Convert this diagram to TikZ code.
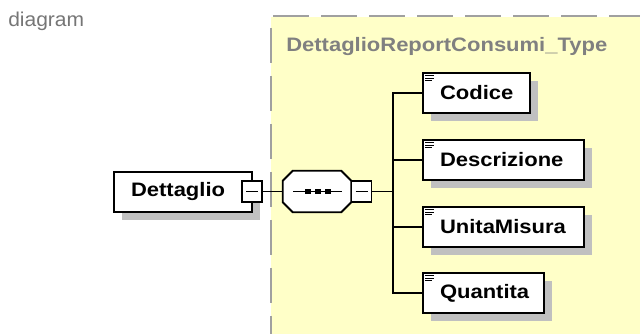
\documentclass[tikz,border=0pt]{standalone}
\usepackage{fontspec}
\setmainfont{Liberation Sans}
\newfontfamily\boxfont[FakeStretch=1.13]{Liberation Sans}
\newfontfamily\capfont[FakeStretch=1.05]{Liberation Sans}
\usetikzlibrary{shadows}
\definecolor{bgyellow}{RGB}{255,255,200}
\definecolor{dashgray}{RGB}{160,160,160}
\definecolor{titlegray}{RGB}{128,128,128}
\definecolor{shadowgray}{RGB}{192,192,192}
\definecolor{labelgray}{RGB}{118,118,118}
\begin{document}
\begin{tikzpicture}[x=0.75pt,y=-0.75pt,
  boxline/.style={line width=1.4pt},
  conn/.style={line width=1.3pt},
  shad/.style={drop shadow={shadow xshift=6pt,shadow yshift=-6pt,fill=shadowgray,opacity=1}},
  boxtext/.style={font=\boxfont\bfseries\fontsize{14.6}{17}\selectfont},
  elem/.style={draw=black, boxline, fill=white, shad, rectangle, inner xsep=12.75pt, inner ysep=0pt,
    minimum height=30pt, align=left, boxtext},
  minbox/.style={draw=black, line width=1.2pt, fill=white, rectangle, inner sep=0pt,
    minimum width=15pt, minimum height=15.75pt},
  seqarea/.style={rectangle, inner sep=0pt, minimum width=51pt, minimum height=30.75pt},
  octo/.style={draw=black, boxline, fill=white},
  dashline/.style={dashgray, line width=1.5pt}]
\useasboundingbox (0,0) rectangle (640,334);
\fill[white] (0,0) rectangle (640,334);
% type area
\fill[bgyellow] (271,17) rectangle (640,334);
\draw[dashline, dash pattern=on 27pt off 9pt] (273,16) -- (640,16);
\draw[dashline, dash pattern=on 26.25pt off 9.75pt] (271,28) -- (271,334);
% labels
\node[anchor=base west, inner sep=0pt, text=labelgray, font=\capfont\fontsize{15}{18}\selectfont] (lbl) at (8,26.7) {diagram};
\node[anchor=base west, inner sep=0pt, text=titlegray, boxtext] (title) at (286,52) {DettaglioReportConsumi\_Type};
% main element
\node[elem, text width=78pt] (dett) at (183,192) {Dettaglio};
\node[minbox] (dmin) at (252,191.5) {};
\draw[line width=1.1pt] ([xshift=-4.5pt]dmin.center) -- ([xshift=4.5pt]dmin.center);
% sequence compositor
\node[seqarea] (seq) at (317,191.5) {};
\fill[shadowgray, shift={(8,8)}] ([xshift=7.5pt]seq.north west) -- ([xshift=-7.5pt]seq.north east)
  -- ([yshift=-7.5pt]seq.north east) -- ([yshift=7.5pt]seq.south east)
  -- ([xshift=-7.5pt]seq.south east) -- ([xshift=7.5pt]seq.south west)
  -- ([yshift=7.5pt]seq.south west) -- ([yshift=-7.5pt]seq.north west) -- cycle;
\draw[octo] ([xshift=7.5pt]seq.north west) -- ([xshift=-7.5pt]seq.north east)
  -- ([yshift=-7.5pt]seq.north east) -- ([yshift=7.5pt]seq.south east)
  -- ([xshift=-7.5pt]seq.south east) -- ([xshift=7.5pt]seq.south west)
  -- ([yshift=7.5pt]seq.south west) -- ([yshift=-7.5pt]seq.north west) -- cycle;
\draw[line width=1.2pt] ([xshift=-18pt]seq.center) -- ([xshift=18.75pt]seq.center);
\foreach \dx in {-9,1,11}
  \fill ([shift={(\dx-2.75,-2.75)}]seq.center) rectangle ++(5.5,5.5);
\node[minbox] (smin) at (361.5,191.5) {};
\draw[line width=1.1pt] ([xshift=-4.5pt]smin.center) -- ([xshift=4.5pt]smin.center);
% children
\node[elem, text width=54.75pt] (codice) at (476.5,93) {Codice};
\node[elem, text width=95.25pt] (descr) at (503.5,160) {Descrizione};
\node[elem, text width=95.25pt] (unita) at (503.5,227) {UnitaMisura};
\node[elem, text width=65.25pt] (quant) at (483.5,293) {Quantita};
\foreach \n in {codice,descr,unita,quant}{
  \draw[line width=0.8pt] ([shift={(3,3.5)}]\n.north west) -- ++(9,0);
  \draw[line width=0.8pt] ([shift={(3,6)}]\n.north west) -- ++(9,0);
  \draw[line width=0.8pt] ([shift={(3,8.5)}]\n.north west) -- ++(7,0);
}
% connectors
\coordinate (bus) at (393,191.5);
\draw[conn] (dmin.east) -- (seq.west);
\draw[conn] (smin.east) -- (bus);
\draw[conn] (codice.west) -| (bus) |- (quant.west);
\draw[conn] (descr.west) -- (descr.west -| bus);
\draw[conn] (unita.west) -- (unita.west -| bus);
\end{tikzpicture}
\end{document}
